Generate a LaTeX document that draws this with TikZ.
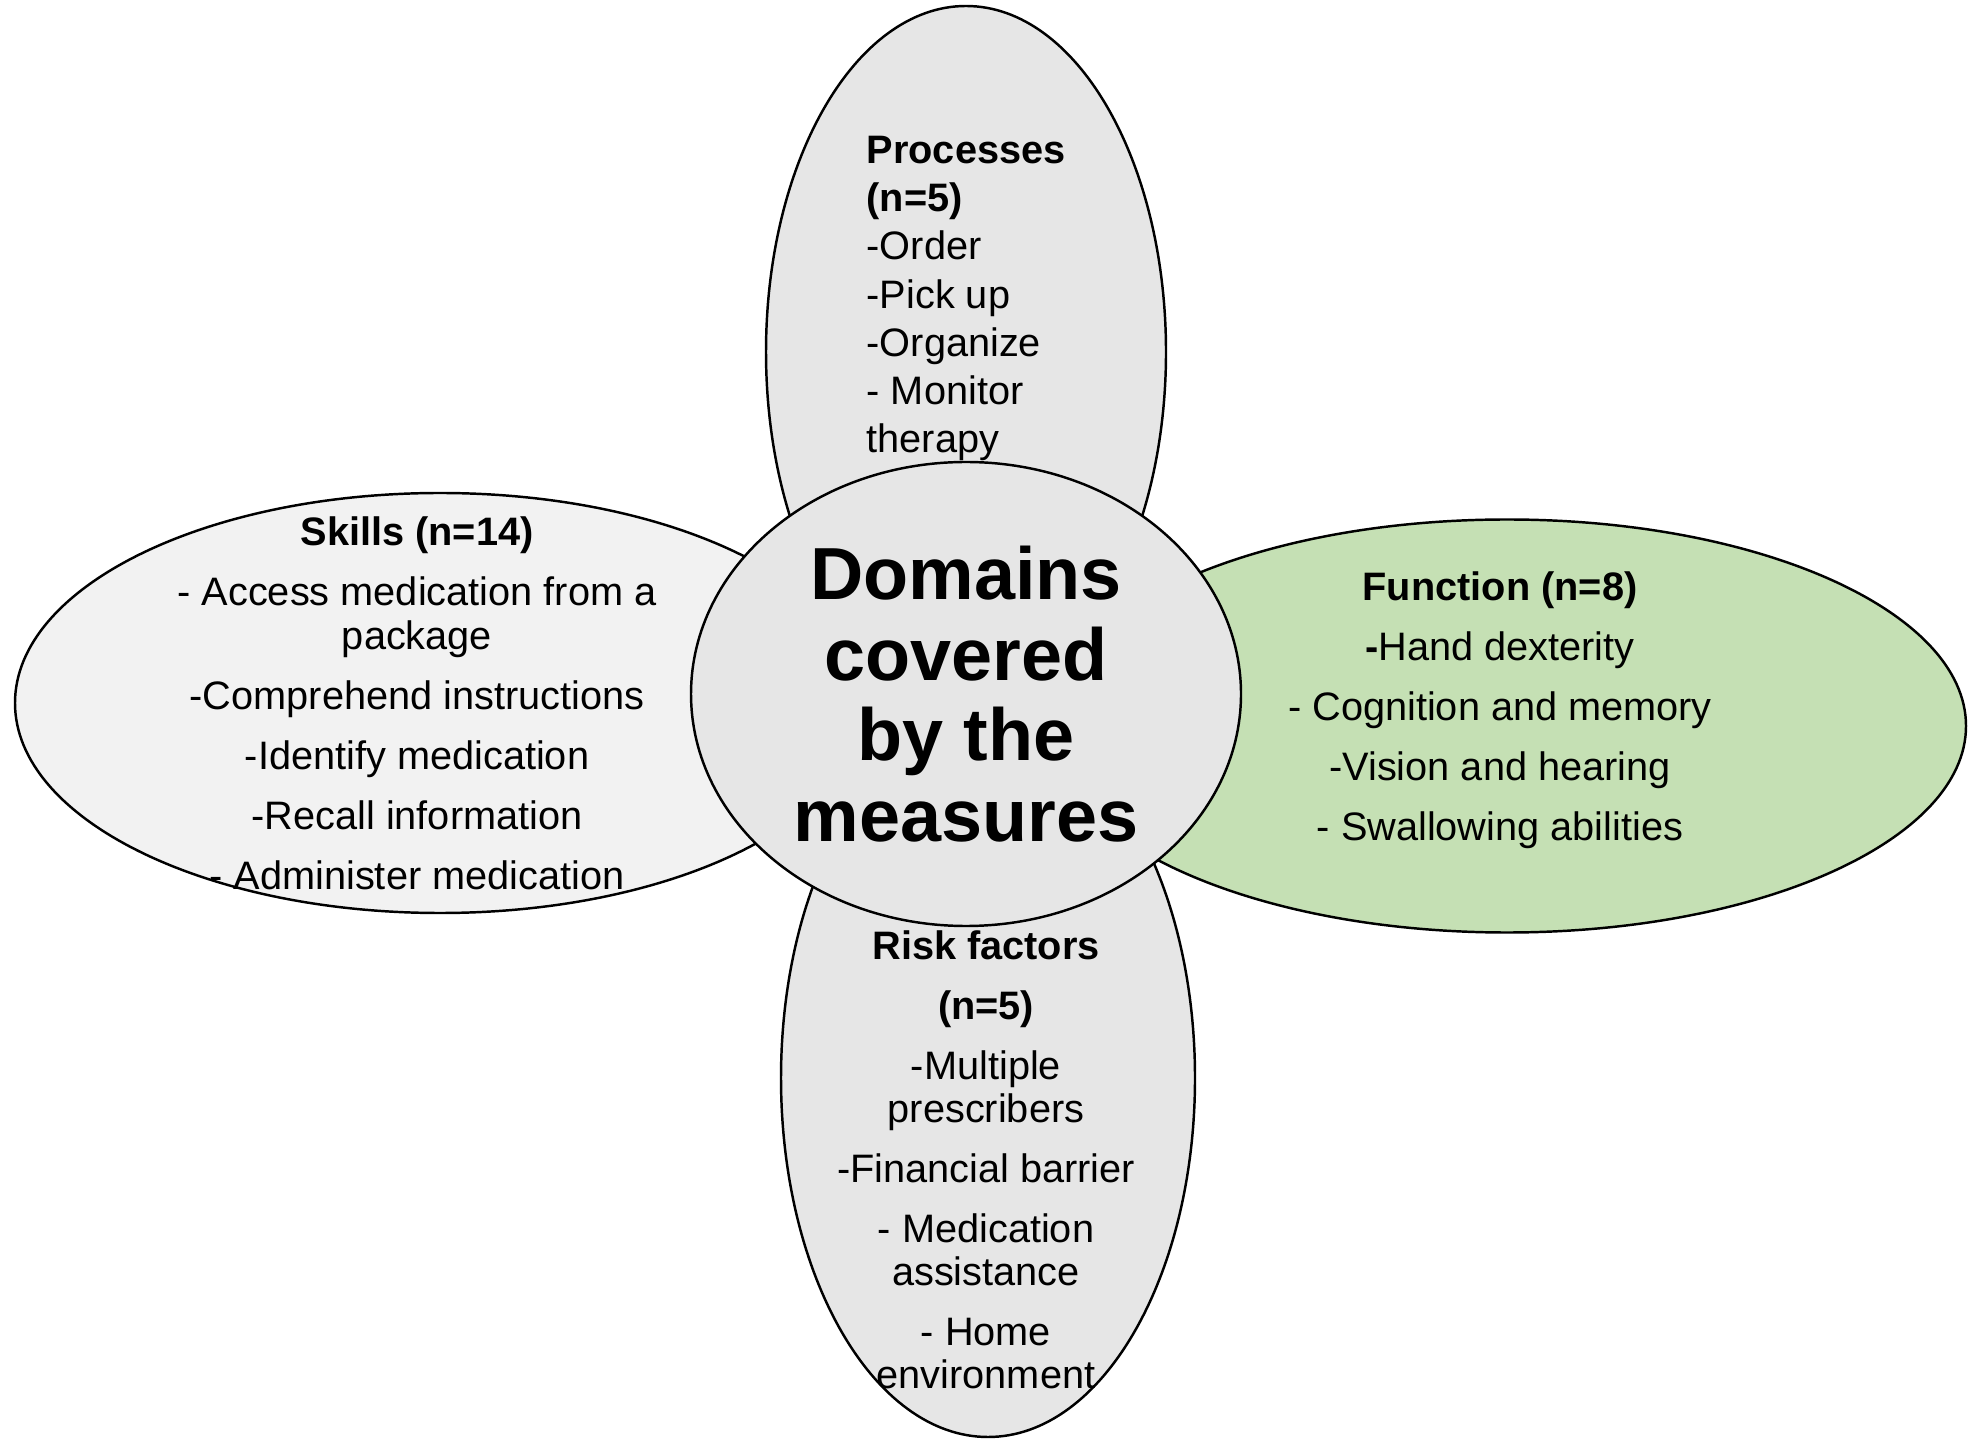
\documentclass[tikz,border=0pt]{standalone}
\usepackage{fontspec}
\setmainfont{Liberation Sans}
\usepackage{tikz}
\usetikzlibrary{shapes.geometric}
\definecolor{petalgray}{HTML}{E6E6E6}
\definecolor{skillgray}{HTML}{F2F2F2}
\definecolor{funcgreen}{HTML}{C5E0B4}
\tikzstyle{petal} = [ellipse, draw=black, line width=0.7pt, inner sep=0pt]
\tikzstyle{itemlist} = [inner sep=0pt, align=center, font=\fontsize{11.3}{17.1}\selectfont]

\begin{document}
\begin{tikzpicture}[node distance=3.4cm]
	\useasboundingbox (0,0) rectangle (19.69,14.40);
	
	% Petals
	\coordinate (mid) at (9.66,7.46);
	\node (procs) [petal, fill=petalgray, minimum width=4.00cm, minimum height=6.92cm, above of=mid, yshift=0.02cm] {};
	\node (risk) [petal, fill=petalgray, minimum width=4.14cm, minimum height=7.18cm, below of=mid, xshift=0.22cm, yshift=-0.44cm] {};
	\node (skills) [petal, fill=skillgray, minimum width=8.50cm, minimum height=4.20cm, left of=mid, xshift=-1.86cm, yshift=-0.09cm] {};
	\node (func) [petal, fill=funcgreen, minimum width=9.18cm, minimum height=4.13cm, right of=mid, xshift=2.01cm, yshift=-0.32cm] {};
	\node (hub) [petal, fill=petalgray, minimum width=5.50cm, minimum height=4.64cm, align=center, font=\fontsize{21}{22.9}\selectfont\bfseries] at (mid) {Domains\\covered\\by the\\measures};
	
	% Texts (base = last line)
	\node (procstext) [itemlist, anchor=base west, align=left, font=\fontsize{11.3}{13.7}\selectfont] at (8.66,9.875) {\textbf{Processes}\\\textbf{(n=5)}\\-Order\\-Pick up\\-Organize\\- Monitor\\therapy};
	\node (skillstext) [itemlist, anchor=base] at (4.17,5.505) {\textbf{Skills (n=14)}\\- Access medication from a\\[-4.6pt]package\\-Comprehend instructions\\-Identify medication\\-Recall information\\- Administer medication};
	\node (functext) [itemlist, anchor=base] at (15.00,5.995) {\textbf{Function (n=8)}\\\textbf{-}Hand dexterity\\- Cognition and memory\\-Vision and hearing\\- Swallowing abilities};
	\node (risktext) [itemlist, anchor=base] at (9.86,0.515) {\textbf{Risk factors}\\\textbf{(n=5)}\\-Multiple\\[-4.9pt]prescribers\\-Financial barrier\\- Medication\\[-4.9pt]assistance\\- Home\\[-4.9pt]environment};
	
\end{tikzpicture}
\end{document}
